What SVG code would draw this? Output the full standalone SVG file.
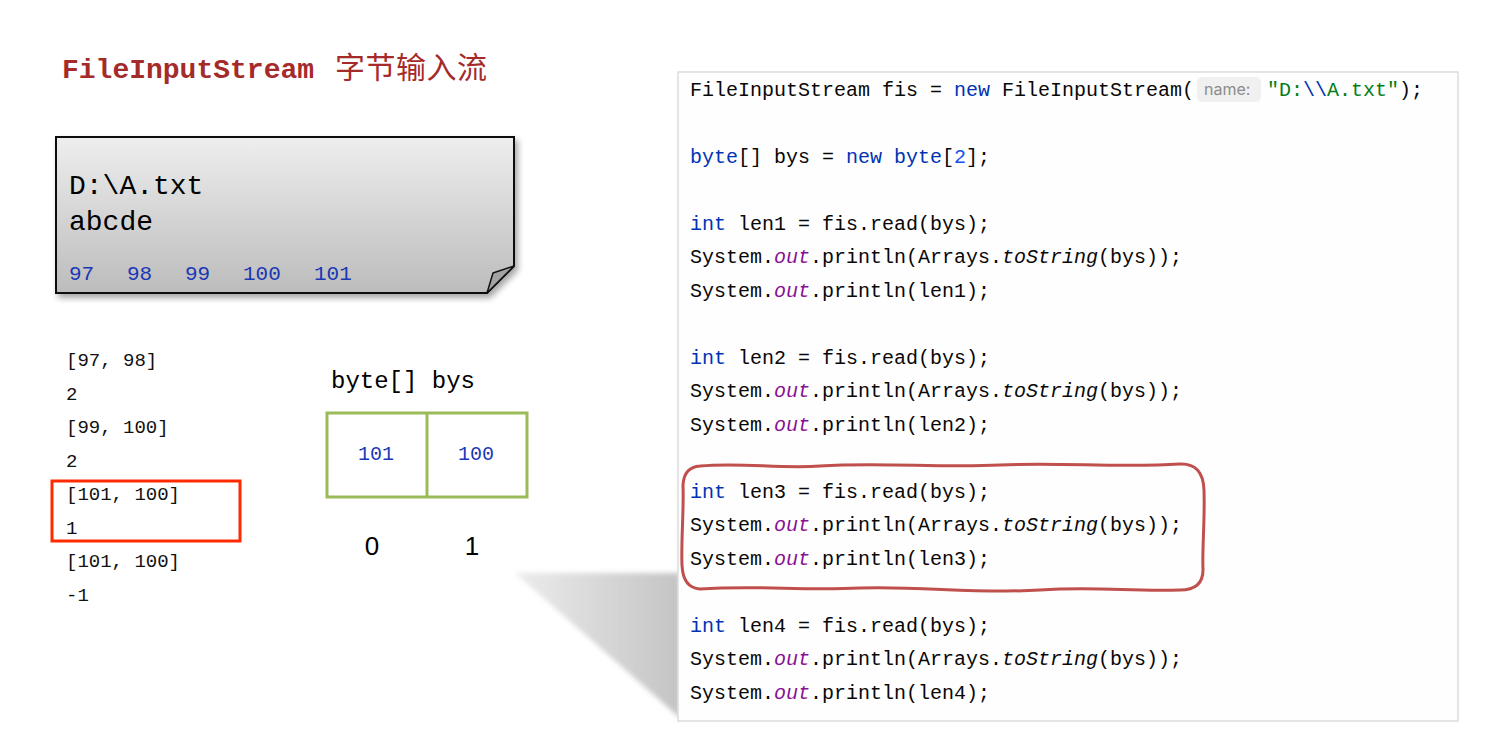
<svg xmlns="http://www.w3.org/2000/svg" width="1499" height="734" viewBox="0 0 1499 734">
<defs>
<linearGradient id="noteG" x1="0" y1="0" x2="0" y2="1"><stop offset="0" stop-color="#eeeeee"/><stop offset="1" stop-color="#bcbcbc"/></linearGradient>
<linearGradient id="shG" x1="0" y1="0" x2="1" y2="0"><stop offset="0" stop-color="#ececec"/><stop offset="1" stop-color="#c4c4c4"/></linearGradient>
<filter id="ds" x="-5%" y="-5%" width="115%" height="120%"><feDropShadow dx="3" dy="4" stdDeviation="3" flood-color="#000" flood-opacity="0.35"/></filter>
<filter id="blur" x="-10%" y="-10%" width="120%" height="120%"><feGaussianBlur stdDeviation="2.5"/></filter>
<style>
.mono{font-family:"Liberation Mono","DejaVu Sans Mono",monospace}
.code{font-family:"Liberation Mono","DejaVu Sans Mono",monospace;font-size:20px;fill:#080808}
.kw{fill:#0033b3}
.num{fill:#1750eb}
.fld{fill:#871094;font-style:italic}
.it{font-style:italic}
.str{fill:#067d17}
.out{font-family:"Liberation Mono","DejaVu Sans Mono",monospace;font-size:19px;fill:#111}
.blue{fill:#1a37b5}
</style>
</defs>
<rect width="1499" height="734" fill="#ffffff"/>

<g id="title">
<text x="62" y="78" class="mono" font-size="28" font-weight="bold" fill="#a52a2a">FileInputStream</text>
<text x="335" y="78" font-family="'Noto Sans CJK SC',sans-serif" font-size="30" fill="#a52a2a" textLength="152">字节输入流</text>
</g>

<g id="file-note">
<path d="M56,137 H514 V266 L487,293 H56 Z" fill="url(#noteG)" stroke="#111" stroke-width="2" filter="url(#ds)"/>
<path d="M487,293 L493,273 L514,266 Z" fill="#a3a3a3" stroke="#111" stroke-width="1.5" stroke-linejoin="round"/>
<text x="69" y="194" class="mono" font-size="28" fill="#000">D:\A.txt</text>
<text x="69" y="230" class="mono" font-size="28" fill="#000">abcde</text>
<g class="mono blue" font-size="21">
<text x="69" y="280">97</text>
<text x="127" y="280">98</text>
<text x="185" y="280">99</text>
<text x="243" y="280">100</text>
<text x="314" y="280">101</text>
</g>
</g>

<g id="console-output">
<text x="66" y="366" class="out">[97, 98]</text>
<text x="66" y="400" class="out">2</text>
<text x="66" y="433" class="out">[99, 100]</text>
<text x="66" y="467" class="out">2</text>
<text x="66" y="500" class="out">[101, 100]</text>
<text x="66" y="534" class="out">1</text>
<text x="66" y="567" class="out">[101, 100]</text>
<text x="66" y="601" class="out">-1</text>
</g>

<g id="highlight-output">
<rect x="52" y="481" width="188" height="60" fill="none" stroke="#ff2a00" stroke-width="3"/>
</g>

<g id="byte-array">
<text x="331" y="388" class="mono" font-size="24" fill="#000">byte[] bys</text>
<rect x="327" y="413" width="200" height="84" fill="none" stroke="#9bbb59" stroke-width="3"/>
<line x1="427" y1="413" x2="427" y2="497" stroke="#9bbb59" stroke-width="3"/>
<text x="376" y="460" class="mono blue" font-size="20" text-anchor="middle">101</text>
<text x="476" y="460" class="mono blue" font-size="20" text-anchor="middle">100</text>
<text x="372" y="555" font-family="'Liberation Sans',sans-serif" font-size="26" fill="#000" text-anchor="middle">0</text>
<text x="472" y="555" font-family="'Liberation Sans',sans-serif" font-size="26" fill="#000" text-anchor="middle">1</text>
</g>

<g id="code-panel">
<polygon points="515,573 680,573 680,718" fill="url(#shG)" filter="url(#blur)"/>
<rect x="678" y="72" width="780" height="649" fill="#fefefe" stroke="#dcdcdc" stroke-width="1.5"/>
<rect x="1197" y="77" width="64" height="25" rx="5" fill="#f0f0f0"/>
<text x="1204" y="95" font-family="Inter,'Liberation Sans',sans-serif" font-size="16" fill="#8c8c8c">name:</text>
<text x="690" y="96" class="code">FileInputStream fis = <tspan class="kw">new</tspan> FileInputStream(</text>
<text x="1267" y="96" class="code"><tspan class="str">"D:</tspan><tspan class="kw">\\</tspan><tspan class="str">A.txt"</tspan>);</text>
<text x="690" y="163" class="code"><tspan class="kw">byte</tspan>[] bys = <tspan class="kw">new byte</tspan>[<tspan class="num">2</tspan>];</text>
<text x="690" y="230" class="code"><tspan class="kw">int</tspan> len1 = fis.read(bys);</text>
<text x="690" y="263" class="code">System.<tspan class="fld">out</tspan>.println(Arrays.<tspan class="it">toString</tspan>(bys));</text>
<text x="690" y="297" class="code">System.<tspan class="fld">out</tspan>.println(len1);</text>
<text x="690" y="364" class="code"><tspan class="kw">int</tspan> len2 = fis.read(bys);</text>
<text x="690" y="397" class="code">System.<tspan class="fld">out</tspan>.println(Arrays.<tspan class="it">toString</tspan>(bys));</text>
<text x="690" y="431" class="code">System.<tspan class="fld">out</tspan>.println(len2);</text>
<text x="690" y="498" class="code"><tspan class="kw">int</tspan> len3 = fis.read(bys);</text>
<text x="690" y="531" class="code">System.<tspan class="fld">out</tspan>.println(Arrays.<tspan class="it">toString</tspan>(bys));</text>
<text x="690" y="565" class="code">System.<tspan class="fld">out</tspan>.println(len3);</text>
<text x="690" y="632" class="code"><tspan class="kw">int</tspan> len4 = fis.read(bys);</text>
<text x="690" y="665" class="code">System.<tspan class="fld">out</tspan>.println(Arrays.<tspan class="it">toString</tspan>(bys));</text>
<text x="690" y="699" class="code">System.<tspan class="fld">out</tspan>.println(len4);</text>
</g>

<g id="highlight-code">
<path d="M700,466 C740,462 780,469 820,466 C880,462 940,468 1000,465 C1060,462 1120,468 1180,464 Q1203,463 1204,490 C1205,520 1202,550 1203,570 Q1203,590 1180,590 C1130,592 1100,586 1040,590 C980,594 920,586 860,588 C800,591 760,585 700,589 Q683,588 682,565 C681,540 684,510 683,485 Q684,467 700,466 Z" fill="none" stroke="#c0504d" stroke-width="3"/>
</g>
</svg>
